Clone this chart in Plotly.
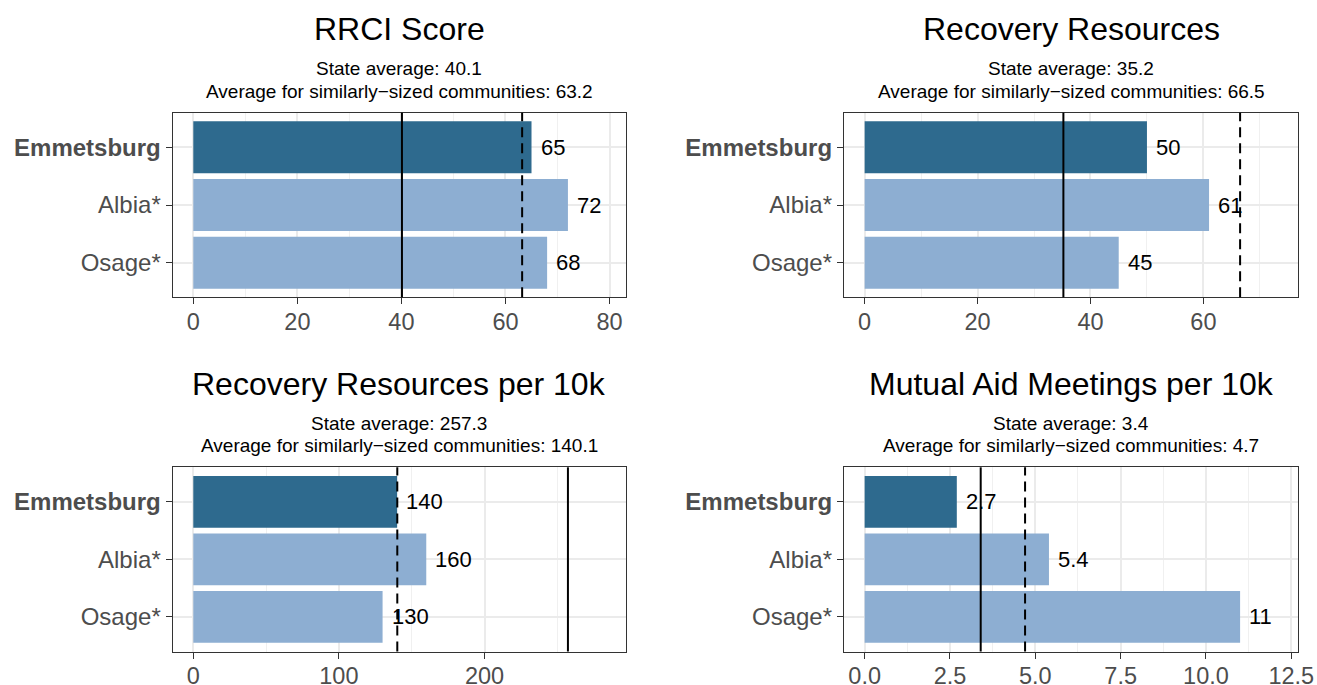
import plotly.graph_objects as go

# ---------------- data ----------------
communities = ["Emmetsburg", "Albia*", "Osage*"]
highlight = "Emmetsburg"

titles = ["RRCI Score", "Recovery Resources",
          "Recovery Resources per 10k", "Mutual Aid Meetings per 10k"]
rrci_values = [65, 72, 68]
resources_values = [50, 61, 45]
resources_per10k_values = [140, 160, 130]
mutual_aid_values = [2.7, 5.4, 11]
state_avgs = [40.1, 35.2, 257.3, 3.4]
similar_avgs = [63.2, 66.5, 140.1, 4.7]
x_dticks = [20, 20, 100, 2.5]
x_tickformats = ["d", "d", "d", ".1f"]

series = [rrci_values, resources_values, resources_per10k_values, mutual_aid_values]

# ---------------- layout helpers ----------------
W, H = 1317, 685
FONT = "Liberation Sans, Arial, sans-serif"
DARK = "#2E6A8E"
LIGHT = "#8DAED2"

# panel boxes in pixels (left, right, top, bottom)
boxes = [
    (172.7, 626.0, 112.7, 297.3),
    (844.0, 1298.3, 112.7, 297.3),
    (172.7, 626.0, 467.3, 651.5),
    (844.0, 1298.3, 467.3, 651.5),
]

def px_x(v):
    return v / W

def px_y(v):
    return 1 - v / H

fig = go.Figure()
annotations = []
shapes = []

for i, (title, vals, sa, sim, dt, tf) in enumerate(
        zip(titles, series, state_avgs, similar_avgs, x_dticks, x_tickformats)):
    n = i + 1
    xa = "xaxis" if n == 1 else f"xaxis{n}"
    ya = "yaxis" if n == 1 else f"yaxis{n}"
    xr = "x" if n == 1 else f"x{n}"
    yr = "y" if n == 1 else f"y{n}"
    l, r, t, b = boxes[i]

    colors = [DARK if c == highlight else LIGHT for c in communities]
    fig.add_trace(go.Bar(
        x=vals, y=communities, orientation="h", width=0.9,
        marker=dict(color=colors, line=dict(width=0)),
        xaxis=xr, yaxis=yr, showlegend=False, hoverinfo="skip",
    ))

    M = max(vals + [sa, sim]) * 1.1
    xrange = [-0.05 * M, 1.05 * M]

    fig.layout[xa] = dict(
        domain=[px_x(l), px_x(r)], anchor=yr, range=xrange,
        tickmode="linear", tick0=0, dtick=dt, tickformat=tf,
        showgrid=True, gridcolor="#EBEBEB", gridwidth=1.5,
        minor=dict(dtick=dt / 2, tick0=0, showgrid=True,
                   gridcolor="#F0F0F0", gridwidth=0.9),
        ticks="outside", ticklen=6, tickwidth=1.3, tickcolor="#333333",
        tickfont=dict(family=FONT, size=23.5, color="#4D4D4D"),
        ticklabelstandoff=-3,
        showline=True, linecolor="#333333", linewidth=1.3, mirror=True,
        zeroline=False, fixedrange=True, automargin=False,
    )
    ticktext = [f"<b>{c}</b>" if c == highlight else c for c in communities]
    fig.layout[ya] = dict(
        domain=[px_y(b), px_y(t)], anchor=xr,
        type="category", categoryorder="array", categoryarray=communities,
        range=[2.6, -0.6],
        tickmode="array", tickvals=communities, ticktext=ticktext,
        showgrid=True, gridcolor="#EBEBEB", gridwidth=1.5,
        ticks="outside", ticklen=6, tickwidth=1.3, tickcolor="#333333",
        tickfont=dict(family=FONT, size=24, color="#4D4D4D"),
        ticklabelstandoff=0,
        showline=True, linecolor="#333333", linewidth=1.3, mirror=True,
        zeroline=False, fixedrange=True, automargin=False,
    )

    # reference lines
    shapes.append(dict(type="line", xref=xr, yref=f"{yr} domain",
                       x0=sa, x1=sa, y0=0, y1=1,
                       line=dict(color="black", width=2)))
    shapes.append(dict(type="line", xref=xr, yref=f"{yr} domain",
                       x0=sim, x1=sim, y0=0, y1=1,
                       line=dict(color="black", width=2, dash="10px,6px")))

    # value labels
    for c, v in zip(communities, vals):
        annotations.append(dict(
            x=v, y=c, xref=xr, yref=yr, text=f"{v:g}", showarrow=False,
            xanchor="left", yanchor="middle", xshift=7,
            font=dict(family=FONT, size=22, color="black"),
        ))

    # titles and subtitles
    cx = px_x((l + r) / 2)
    annotations.append(dict(
        x=cx, y=px_y(t - 83.5), xref="paper", yref="paper", text=title,
        showarrow=False, xanchor="center", yanchor="middle",
        font=dict(family=FONT, size=32, color="black"),
    ))
    annotations.append(dict(
        x=cx, y=px_y(t - 44), xref="paper", yref="paper",
        text=f"State average: {sa}",
        showarrow=False, xanchor="center", yanchor="middle",
        font=dict(family=FONT, size=19, color="black"),
    ))
    annotations.append(dict(
        x=cx, y=px_y(t - 21.7), xref="paper", yref="paper",
        text=f"Average for similarly\u2212sized communities: {sim}",
        showarrow=False, xanchor="center", yanchor="middle",
        font=dict(family=FONT, size=19, color="black"),
    ))

fig.update_layout(
    width=W, height=H,
    margin=dict(l=0, r=0, t=0, b=0, autoexpand=False),
    paper_bgcolor="white", plot_bgcolor="white",
    bargap=0.1,
    annotations=annotations, shapes=shapes,
    font=dict(family=FONT),
)

fig.write_html("out.html", config={"displayModeBar": False},
               post_script="document.body.style.margin='0px';"
                           "document.body.style.overflow='hidden';")
